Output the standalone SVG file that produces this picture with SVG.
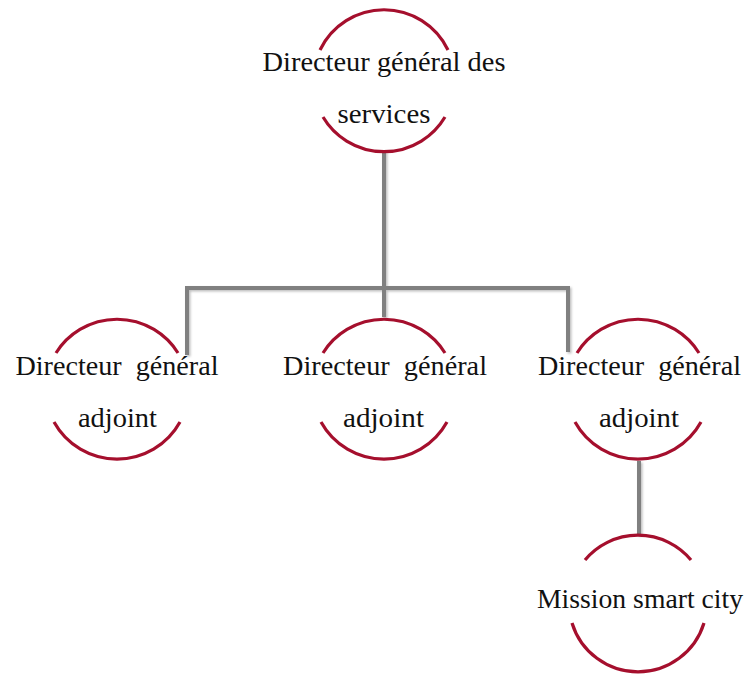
<svg xmlns="http://www.w3.org/2000/svg" width="748" height="675" viewBox="0 0 748 675">
  <defs>
    <style>
      .arc { fill: none; stroke: #A50F2D; stroke-width: 3.2; }
      .conn { fill: none; stroke: #808080; stroke-width: 4; stroke-linejoin: miter; }
      .lbl { font-family: "Liberation Serif", "DejaVu Serif", serif; font-size: 27px; fill: #111111; text-anchor: middle; white-space: pre; }
    </style>
    <filter id="sh" x="-20%" y="-20%" width="140%" height="140%">
      <feDropShadow dx="1.5" dy="1.5" stdDeviation="1" flood-color="#000" flood-opacity="0.25"/>
    </filter>
  </defs>
  <rect width="748" height="675" fill="#ffffff"/>

  <g id="connectors" filter="url(#sh)">
    <path class="conn" d="M384,150 V317"/>
    <path class="conn" d="M187,355 V288 H568 V352"/>
    <path class="conn" d="M639,461 V535"/>
  </g>

  <g id="node-dgs">
    <path class="arc" d="M320,50 A71,71 0 0 1 448,50"/>
    <path class="arc" d="M323,117 A71,71 0 0 0 445,117"/>
    <text class="lbl" x="384" y="71" textLength="243" lengthAdjust="spacingAndGlyphs">Directeur général des</text>
    <text class="lbl" x="384" y="123" textLength="93" lengthAdjust="spacingAndGlyphs">services</text>
  </g>

  <g id="node-dga-left">
    <path class="arc" d="M56,353 A72,72 0 0 1 178,353"/>
    <path class="arc" d="M54,422 A72,72 0 0 0 180,422"/>
    <text class="lbl" x="117" y="375" textLength="203" lengthAdjust="spacingAndGlyphs">Directeur  général</text>
    <text class="lbl" x="117.5" y="427" textLength="79" lengthAdjust="spacingAndGlyphs">adjoint</text>
  </g>

  <g id="node-dga-middle">
    <path class="arc" d="M323,353 A72,72 0 0 1 445,353"/>
    <path class="arc" d="M321,422 A72,72 0 0 0 447,422"/>
    <text class="lbl" x="385" y="375" textLength="204" lengthAdjust="spacingAndGlyphs">Directeur  général</text>
    <text class="lbl" x="383.5" y="427" textLength="81" lengthAdjust="spacingAndGlyphs">adjoint</text>
  </g>

  <g id="node-dga-right">
    <path class="arc" d="M577,353 A72,72 0 0 1 699,353"/>
    <path class="arc" d="M575,422 A72,72 0 0 0 701,422"/>
    <text class="lbl" x="639.5" y="375" textLength="203" lengthAdjust="spacingAndGlyphs">Directeur  général</text>
    <text class="lbl" x="639" y="427" textLength="80" lengthAdjust="spacingAndGlyphs">adjoint</text>
  </g>

  <g id="node-smart-city">
    <path class="arc" d="M585,560 A69,69 0 0 1 691,560"/>
    <path class="arc" d="M572,623 A69,69 0 0 0 704,623"/>
    <text class="lbl" x="640" y="608" textLength="206" lengthAdjust="spacingAndGlyphs">Mission smart city</text>
  </g>
</svg>
